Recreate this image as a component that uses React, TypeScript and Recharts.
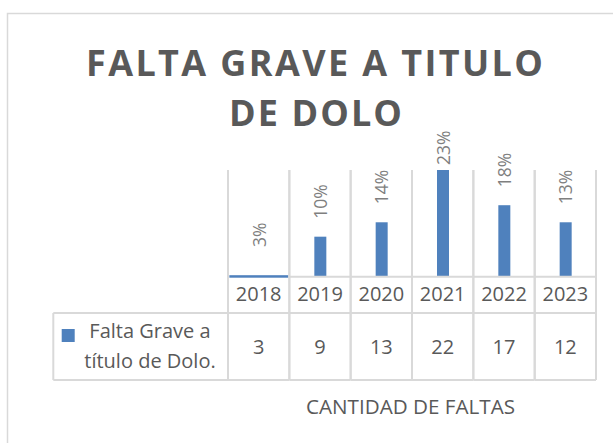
import { BarChart, Bar, XAxis, YAxis, LabelList } from 'recharts';

const years = ['2018', '2019', '2020', '2021', '2022', '2023'];
const counts = [3, 9, 13, 22, 17, 12];
const pctLabels = ['3%', '10%', '14%', '23%', '18%', '13%'];
// bar heights as drawn in the picture (axis starts at 3%)
const barPct = [3, 10.5, 13.2, 23, 16.4, 13.2];
const yMin = 3;
const yMax = 23;

const seriesName = ['Falta Grave a', 'título de Dolo.'];
const titleLines = ['FALTA GRAVE A TITULO', 'DE DOLO'];
const axisTitle = 'CANTIDAD DE FALTAS';

const data = years.map((year, i) => ({
  year,
  pct: barPct[i],
  label: pctLabels[i],
  count: counts[i],
}));

const W = 613;
const H = 443;
const M = { top: 170, right: 17, bottom: 136.3, left: 228 };
const BW = (W - M.left - M.right) / years.length;
const BLUE = '#4f81bd';
const GRID = '#d9d9d9';
const TXT = '#595959';
const FONT = '"Open Sans", sans-serif';

const BASE_Y = 276.7;
const ROW1_Y = 313;
const ROW2_Y = 380;

const TableTick = (props: any) => {
  const { x, payload } = props;
  const i = payload.index;
  const l = x - BW / 2;
  const r = x + BW / 2;
  const flat = barPct[i] <= yMin;
  return (
    <g>
      {!flat && <line x1={l} x2={r} y1={BASE_Y} y2={BASE_Y} stroke={GRID} strokeWidth={2} />}
      <line x1={l} x2={r} y1={ROW1_Y} y2={ROW1_Y} stroke={GRID} strokeWidth={2} />
      <line x1={l} x2={r} y1={ROW2_Y} y2={ROW2_Y} stroke={GRID} strokeWidth={2} />
      <line x1={l} x2={l} y1={M.top} y2={ROW2_Y} stroke={GRID} strokeWidth={2} />
      <line x1={r} x2={r} y1={M.top} y2={ROW2_Y} stroke={GRID} strokeWidth={2} />
      <text x={x} y={301} textAnchor="middle" fontSize={20} fill={TXT} fontFamily={FONT}>
        {payload.value}
      </text>
      <text x={x} y={354} textAnchor="middle" fontSize={20} fill={TXT} fontFamily={FONT}>
        {counts[i]}
      </text>
    </g>
  );
};

const BarShape = (props: any) => {
  const { x, y, width, height } = props;
  if (height < 1) {
    const cx = x + width / 2;
    return <rect x={cx - BW / 2 + 1} y={y - 1.5} width={BW - 2} height={2.5} fill={BLUE} />;
  }
  return <rect x={x} y={y} width={width} height={height} fill={BLUE} />;
};

const RotLabel = (props: any) => {
  const { x, y, width, value } = props;
  const cx = x + width / 2 + 6.5;
  const bottom = Math.max(Math.min(y - 18, 247), 165);
  return (
    <text
      x={cx}
      y={bottom}
      transform={`rotate(-90 ${cx} ${bottom})`}
      textAnchor="start"
      fontSize={17.5}
      fill="#7f7f7f"
      fontFamily={FONT}
    >
      {value}
    </text>
  );
};

export default function App() {
  return (
    <div style={{ position: 'absolute', left: 0, top: 0, width: W, height: H, background: '#fff' }}>
      <BarChart width={W} height={H} data={data} margin={M}>
        <rect x={7.5} y={13.5} width={W} height={H} fill="none" stroke={GRID} strokeWidth={1.5} />
        <text x={314.5} y={76} textAnchor="middle" fontSize={36} fontWeight="bold" fill={TXT}
          fontFamily={FONT} textLength={457} lengthAdjust="spacing">
          {titleLines[0]}
        </text>
        <text x={315.5} y={126} textAnchor="middle" fontSize={36} fontWeight="bold" fill={TXT}
          fontFamily={FONT} textLength={173} lengthAdjust="spacing">
          {titleLines[1]}
        </text>
        <line x1={53.3} x2={M.left} y1={ROW1_Y} y2={ROW1_Y} stroke={GRID} strokeWidth={2} />
        <line x1={53.3} x2={M.left} y1={ROW2_Y} y2={ROW2_Y} stroke={GRID} strokeWidth={2} />
        <line x1={53.3} x2={53.3} y1={ROW1_Y} y2={ROW2_Y} stroke={GRID} strokeWidth={2} />
        <rect x={61.7} y={329} width={13} height={13} fill={BLUE} />
        <text x={150} y={338} textAnchor="middle" fontSize={20} fill={TXT} fontFamily={FONT}>
          {seriesName[0]}
        </text>
        <text x={150} y={368} textAnchor="middle" fontSize={20} fill={TXT} fontFamily={FONT}>
          {seriesName[1]}
        </text>
        <text x={410.5} y={414} textAnchor="middle" fontSize={20} fill={TXT} fontFamily={FONT}
          textLength={209} lengthAdjust="spacingAndGlyphs">
          {axisTitle}
        </text>
        <XAxis dataKey="year" axisLine={false} tickLine={false} tick={<TableTick />} height={30} interval={0} />
        <YAxis hide domain={[yMin, yMax]} />
        <Bar dataKey="pct" barSize={12} fill={BLUE} shape={<BarShape />} isAnimationActive={false}>
          <LabelList dataKey="label" content={<RotLabel />} />
        </Bar>
      </BarChart>
    </div>
  );
}
